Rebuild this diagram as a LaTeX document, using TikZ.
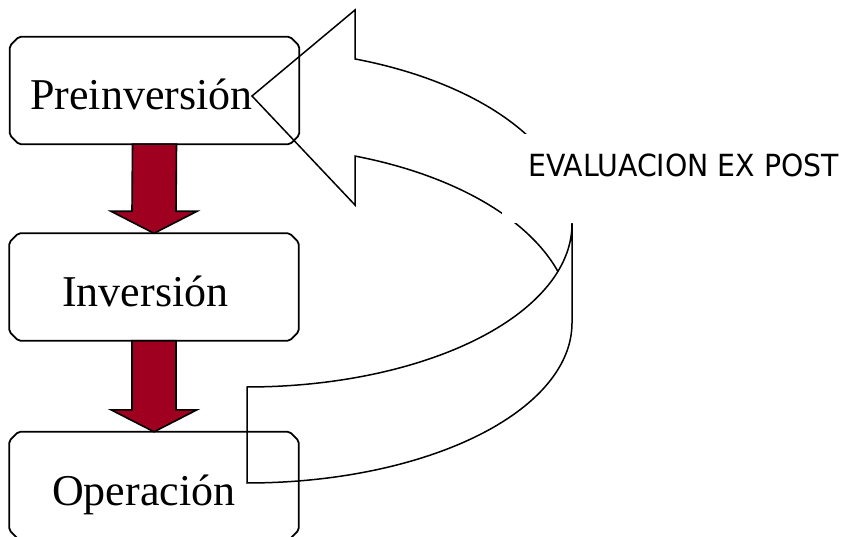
\documentclass[tikz,border=0pt]{standalone}
\usepackage{fontspec}
\setmainfont{Liberation Serif}
\newfontfamily\tahoma[FakeStretch=0.93]{DejaVu Sans}
\usetikzlibrary{calc}
\definecolor{arrowred}{RGB}{160,0,32}
\tikzset{
  stagebox/.style={rectangle, minimum width=289pt, minimum height=107pt, inner sep=0pt},
  boxline/.style={line width=1.8pt, rounded corners=2pt, line join=round},
  stagetext/.style={anchor=base west, font=\fontsize{44}{50}\selectfont, inner sep=0pt},
  flowarrow/.style={fill=arrowred, draw=black, line width=1.6pt, line join=miter},
  ribbon/.style={line width=1.5pt, line join=miter},
  posttext/.style={anchor=base west, font=\tahoma\fontsize{30.5}{36}\selectfont, inner sep=0pt},
}
\newcommand\chambox[1]{%
  \draw[boxline] ($(#1.north west)+(9,0)$) -- ($(#1.north east)+(-9,0)$) -- ($(#1.north east)+(0,9)$)
    -- ($(#1.south east)+(0,-9)$) -- ($(#1.south east)+(-9,0)$) -- ($(#1.south west)+(9,0)$)
    -- ($(#1.south west)+(0,-9)$) -- ($(#1.north west)+(0,9)$) -- cycle;}
\begin{document}
\begin{tikzpicture}[x=1pt,y=-1pt]
\useasboundingbox (0,0) rectangle (854,537);

% curved ribbon arrow (back part with head)
\draw[ribbon] plot[domain=0:70.59, samples=80] ({247+325*cos(\x)},{224-175*sin(\x)})
  -- (355,10) -- (252,96) -- (355,205)
  -- plot[domain=70.59:16.9, samples=80] ({247+325*cos(\x)},{323-177*sin(\x)});
% front part of the ribbon
\draw[ribbon] (572,224) -- (572,323)
  -- plot[domain=0:90, samples=80] ({247+325*cos(\x)},{323+160*sin(\x)})
  -- (247,387)
  -- plot[domain=90:0, samples=80] ({247+325*cos(\x)},{224+163*sin(\x)});

% label with white background
\fill[white] (502,134) rectangle (854,223.3);
\node[posttext] (evalpost) at (528,177) {EVALUACION EX POST};

% stages
\node[stagebox] (pre) at (154.5,90.5) {};
\node[stagebox] (inv) at (154,287) {};
\node[stagebox] (op) at (154,485.5) {};
\chambox{pre}
\chambox{inv}
\chambox{op}
\node[stagetext] (preT) at (30,110) {Preinversión};
\node[stagetext] (invT) at (62,306) {Inversión};
\node[stagetext] (opT) at (52,505) {Operación};

% red block arrows
\draw[flowarrow] ($(pre.south)+(-22,0)$) -- ($(inv.north)+(-22,-22)$) -- ($(inv.north)+(-43,-22)$)
  -- (inv.north) -- ($(inv.north)+(43,-22)$) -- ($(inv.north)+(22,-22)$) -- ($(pre.south)+(22,0)$) -- cycle;
\draw[flowarrow] ($(inv.south)+(-22,0)$) -- ($(op.north)+(-22,-22)$) -- ($(op.north)+(-43,-22)$)
  -- (op.north) -- ($(op.north)+(43,-22)$) -- ($(op.north)+(22,-22)$) -- ($(inv.south)+(22,0)$) -- cycle;
\end{tikzpicture}
\end{document}
